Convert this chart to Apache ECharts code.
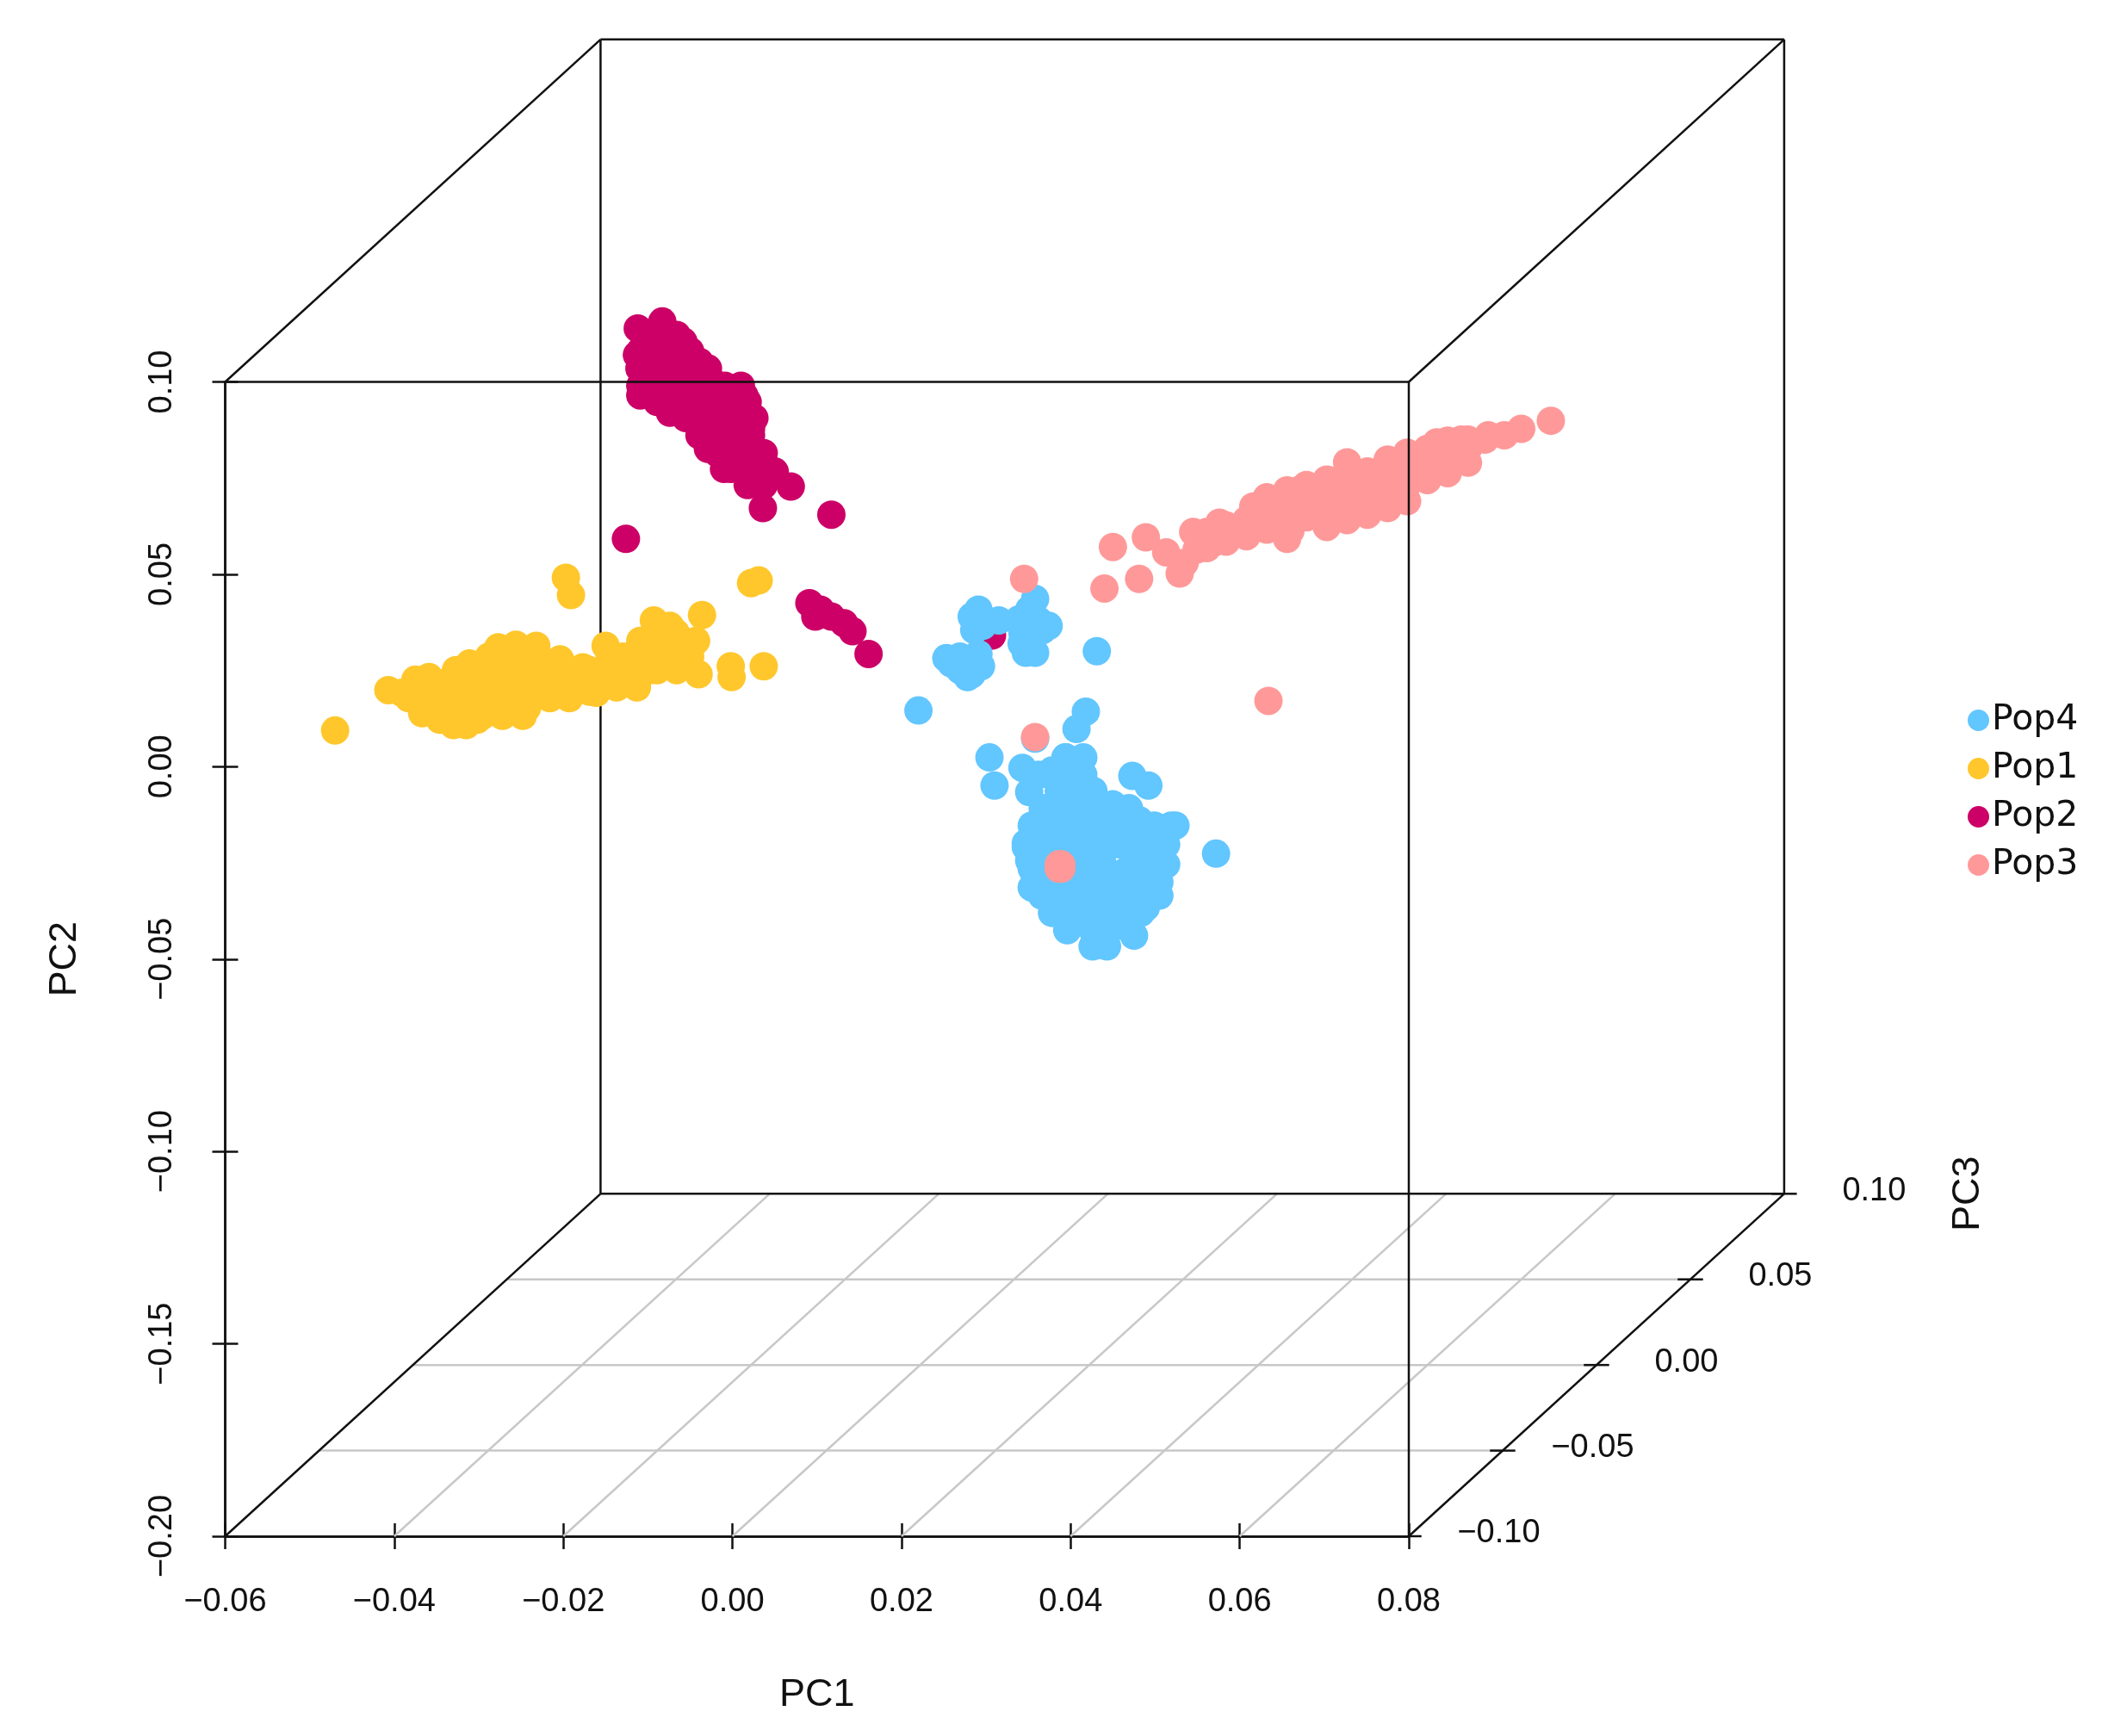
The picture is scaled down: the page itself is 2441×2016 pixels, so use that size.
<!DOCTYPE html>
<html>
<head>
<meta charset="utf-8">
<style>html,body{margin:0;padding:0;background:#fff}#c{width:2441px;height:2016px}</style>
<script src="https://cdn.jsdelivr.net/npm/echarts@6/dist/echarts.min.js"></script>
</head>
<body>
<div id="c"></div>
<script>
// Axis ticks
var pc1Range = [-0.06, 0.08];
var pc2Range = [-0.20, 0.10];
var pc3Range = [-0.10, 0.10];
var pc1Ticks = [-0.04, -0.02, 0, 0.02, 0.04, 0.06];
var pc3Ticks = [-0.10, -0.05, 0, 0.05, 0.10];
// Apparent depth shift of the box, in PC1 / PC2 units, across the whole PC3 range
var depthPC1 = 0.0444;
var depthPC2 = 0.0890;

// Values, as [PC1, PC2] where they appear against the front axes
var pop1 = [[-.0470,.0094],[-.0197,.0491],[-.0191,.0446],[.0022,.0477],[.0031,.0484],[.0037,.0261],[-.0002,.0261],[-.0001,.0233],[-.0040,.0240],[-.0036,.0394],[-.0093,.0380],[-.0074,.0366],
[-.0407,.0199],[-.0391,.0192],[-.0375,.0226],[-.0372,.0174],[-.0359,.0233],[-.0356,.0199],[-.0367,.0139],[-.0346,.0122],[-.0330,.0108],[-.0315,.0108],[-.0302,.0122],[-.0343,.0216],[-.0327,.0251],[-.0311,.0261],[-.0319,.0181],[-.0304,.0216],[-.0292,.0164],[-.0288,.0286],[-.0277,.0310],[-.0256,.0317],[-.0272,.0261],[-.0248,.0251],[-.0232,.0279],[-.0264,.0216],[-.0280,.0199],[-.0240,.0199],[-.0243,.0153],[-.0272,.0146],[-.0216,.0251],[-.0204,.0279],[-.0193,.0233],[-.0197,.0188],[-.0224,.0216],[-.0169,.0233],[-.0161,.0192],[-.0150,.0314],[-.0145,.0261],[-.0129,.0286],[-.0118,.0251],[-.0113,.0216],[-.0102,.0268],[-.0086,.0303],[-.0067,.0348],[-.0082,.0328],[-.0066,.0293],[-.0177,.0258],[-.0137,.0233],
[-.0311,.0268],[-.0288,.0268],[-.0264,.0268],[-.0240,.0268],[-.0216,.0268],[-.0232,.0314],[-.0359,.0223],[-.0335,.0223],[-.0311,.0223],[-.0288,.0223],[-.0264,.0223],[-.0240,.0223],[-.0216,.0223],[-.0193,.0223],[-.0169,.0223],[-.0383,.0178],[-.0359,.0178],[-.0335,.0178],[-.0311,.0178],[-.0288,.0178],[-.0264,.0178],[-.0240,.0178],[-.0216,.0178],[-.0193,.0178],[-.0169,.0195],[-.0343,.0132],[-.0319,.0132],[-.0296,.0132],[-.0272,.0132],[-.0248,.0132],
[-.0145,.0286],[-.0121,.0286],[-.0097,.0286],[-.0169,.0251],[-.0145,.0251],[-.0121,.0251],[-.0097,.0251],[-.0078,.0268],[-.0185,.0206],[-.0161,.0206],[-.0137,.0206],[-.0113,.0206],[-.0137,.0268],
[-.0109,.0327],[-.0089,.0327],[-.0058,.0327],[-.0043,.0327],[-.0050,.0286],[-.0066,.0251],[-.0089,.0251]];
var pop2 = [[-.0112,.1139],[-.0083,.1157],[-.0089,.1087],[-.0058,.1105],[-.0039,.1052],[-.0113,.1070],[-.0097,.1035],[-.0105,.0983],[-.0074,.1000],[-.0050,.0983],[-.0026,.1007],[-.0002,.0983],[.0014,.0965],[-.0074,.0920],[-.0109,.0965],[-.0042,.0930],[-.0010,.0930],[.0018,.0913],[-.0026,.0878],[.0006,.0861],[.0022,.0878],[-.0029,.0826],[-.0010,.0774],[.0014,.0791],[.0037,.0791],[.0029,.0739],[.0050,.0767],[.0069,.0728],[.0036,.0672],[.0117,.0655],[-.0126,.0592],[-.0058,.1035],[-.0018,.0965],
[-.0105,.1122],[-.0082,.1122],[-.0066,.1122],[-.0109,.1080],[-.0089,.1080],[-.0069,.1080],[-.0050,.1080],[-.0110,.1035],[-.0089,.1035],[-.0069,.1035],[-.0050,.1035],[-.0029,.1035],[-.0109,.0990],[-.0089,.0990],[-.0069,.0990],[-.0050,.0990],[-.0029,.0990],[-.0009,.0990],[.0010,.0990],[-.0089,.0948],[-.0061,.0948],[-.0042,.0948],[-.0021,.0948],[-.0001,.0948],[.0018,.0948],[-.0055,.0906],[-.0034,.0906],[-.0013,.0906],[.0007,.0906],[.0026,.0906],[-.0039,.0861],[-.0018,.0861],[.0002,.0861],[.0022,.0861],[-.0018,.0815],[.0002,.0815],[.0022,.0815],[.0037,.0815],[-.0002,.0774],[.0018,.0774],[.0041,.0774],[.0018,.0732],[.0037,.0732],
[.0091,.0425],[.0104,.0408],[.0117,.0390],[.0132,.0373],[.0142,.0352],[.0161,.0293],[.0098,.0390],[.0307,.0341]];
var pop4 = [[.0283,.0390],[.0296,.0366],[.0315,.0380],[.0358,.0436],[.0339,.0383],[.0362,.0380],[.0354,.0328],[.0347,.0296],[.0343,.0348],[.0351,.0408],[.0253,.0282],[.0269,.0286],[.0283,.0240],[.0291,.0293],[.0275,.0268],[.0431,.0300],[.0220,.0146],
[.0347,.0355],[.0342,.0320],[.0367,.0355],[.0358,.0296],[.0351,.0390],[.0374,.0366],[.0259,.0268],[.0278,.0233],[.0269,.0251],[.0294,.0261],[.0291,.0408],[.0286,.0355],
[.0418,.0143],[.0407,.0098],[.0358,.0073],[.0304,.0024],[.0310,-.0049],[.0343,-.0003],[.0362,-.0021],[.0351,-.0066],[.0394,.0024],[.0410,-.0010],[.0378,-.0010],[.0402,-.0063],[.0473,-.0024],[.0492,-.0049],[.0426,-.0098],[.0386,-.0098],[.0362,-.0167],[.0347,-.0209],[.0354,-.0265],[.0370,-.0132],[.0402,-.0167],[.0426,-.0185],[.0450,-.0098],[.0481,-.0139],[.0524,-.0153],[.0513,-.0202],[.0489,-.0237],[.0458,-.0202],[.0465,-.0272],[.0505,-.0300],[.0489,-.0366],[.0475,-.0439],[.0434,-.0463],[.0442,-.0404],[.0426,-.0324],[.0394,-.0376],[.0378,-.0348],[.0367,-.0324],[.0402,-.0307],[.0450,-.0324],[.0572,-.0226],[.0426,-.0237],[.0402,-.0237],[.0386,-.0202],[.0481,-.0185],[.0431,-.0429],[.0418,-.0376],[.0354,-.0314],[.0481,-.0307],[.0513,-.0254],
[.0394,.0024],[.0415,.0024],[.0375,-.0021],[.0396,-.0021],[.0415,-.0021],[.0386,-.0063],[.0407,-.0063],[.0427,-.0063],[.0367,-.0108],[.0386,-.0108],[.0407,-.0108],[.0427,-.0108],[.0448,-.0108],[.0469,-.0108],
[.0354,-.0153],[.0375,-.0153],[.0396,-.0153],[.0416,-.0153],[.0437,-.0153],[.0458,-.0153],[.0478,-.0153],[.0499,-.0153],[.0519,-.0153],
[.0347,-.0199],[.0367,-.0199],[.0388,-.0199],[.0408,-.0199],[.0450,-.0199],[.0470,-.0199],[.0491,-.0199],[.0511,-.0199],
[.0351,-.0244],[.0372,-.0244],[.0393,-.0244],[.0413,-.0244],[.0437,-.0244],[.0478,-.0244],[.0499,-.0244],
[.0358,-.0289],[.0378,-.0289],[.0399,-.0289],[.0419,-.0289],[.0440,-.0289],[.0481,-.0289],[.0502,-.0289],
[.0366,-.0335],[.0386,-.0335],[.0407,-.0335],[.0427,-.0335],[.0448,-.0335],[.0469,-.0335],[.0505,-.0335],
[.0378,-.0380],[.0399,-.0380],[.0421,-.0380],[.0442,-.0380],[.0462,-.0380],[.0483,-.0380],
[.0396,-.0425],[.0426,-.0425],[.0446,-.0425],[.0426,-.0467],[.0443,-.0467]];
var pop3 = [[.0450,.0571],[.0489,.0596],[.0513,.0557],[.0529,.0502],[.0535,.0530],[.0440,.0463],[.0481,.0488],[.0345,.0488],[.0634,.0171],[.0358,.0077],[.0386,-.0254],[.0389,-.0254],[.0386,-.0265],[.0389,-.0265],
[.0545,.0610],[.0549,.0564],[.0569,.0582],[.0576,.0634],[.0589,.0599],[.0605,.0627],[.0616,.0676],[.0632,.0652],[.0648,.0686],[.0660,.0613],[.0672,.0721],[.0679,.0662],[.0695,.0652],[.0703,.0746],[.0719,.0686],[.0727,.0791],[.0743,.0711],[.0751,.0767],[.0767,.0732],[.0783,.0774],[.0790,.0697],[.0806,.0791],[.0822,.0826],[.0833,.0843],[.0830,.0767],[.0854,.0791],[.0870,.0826],[.0862,.0850],[.0894,.0861],[.0913,.0861],[.0933,.0878],[.0968,.0899],
[.0561,.0610],[.0561,.0568],[.0584,.0627],[.0584,.0585],[.0608,.0641],[.0608,.0599],[.0632,.0658],[.0632,.0700],[.0632,.0616],[.0656,.0676],[.0656,.0718],[.0656,.0634],[.0656,.0592],[.0679,.0690],[.0679,.0732],[.0679,.0648],[.0703,.0707],[.0703,.0665],[.0703,.0623],[.0727,.0725],[.0727,.0767],[.0727,.0683],[.0727,.0641],[.0751,.0739],[.0751,.0697],[.0751,.0655],[.0775,.0756],[.0775,.0798],[.0775,.0714],[.0775,.0672],[.0798,.0774],[.0798,.0816],[.0798,.0732],[.0798,.0690],[.0822,.0787],[.0822,.0745],[.0846,.0805],[.0846,.0847],[.0846,.0763],[.0870,.0850],[.0870,.0790],[.0890,.0850]];

var legendOrder = ['Pop4', 'Pop1', 'Pop2', 'Pop3'];

// Oblique projection: where a (PC1, PC2, PC3) point falls against the front axes
function project(p1, p2, p3) {
  var f = (p3 - pc3Range[0]) / (pc3Range[1] - pc3Range[0]);
  return [p1 + f * depthPC1, p2 + f * depthPC2];
}
function row(a, b) {
  var p = project(a[0], a[1], a[2]), q = project(b[0], b[1], b[2]);
  return [p[0], p[1], q[0], q[1]];
}
function segments(rows, color, width, z) {
  return {
    type: 'custom', silent: true, z: z, animation: false, data: rows,
    encode: { x: [0, 2], y: [1, 3] },
    renderItem: function (params, api) {
      var a = api.coord([api.value(0), api.value(1)]);
      var b = api.coord([api.value(2), api.value(3)]);
      return { type: 'line', shape: { x1: a[0], y1: a[1], x2: b[0], y2: b[1] }, style: { stroke: color, lineWidth: width, fill: null } };
    }
  };
}
var x0 = pc1Range[0], x1 = pc1Range[1], y0 = pc2Range[0], y1 = pc2Range[1], d0 = pc3Range[0], d1 = pc3Range[1];
var INK = '#111111', GRID = '#c8c8c8', TEXT = '#111111';
var series = [];
// floor grid
series.push(segments(
  pc1Ticks.map(function (t) { return row([t, y0, d0], [t, y0, d1]); })
    .concat(pc3Ticks.slice(1, -1).map(function (t) { return row([x0, y0, t], [x1, y0, t]); })),
  GRID, 2.5, 1));
// back and connecting box edges, PC3 ticks
var tickHalf = 0.0015;
series.push(segments([
  row([x0, y1, d1], [x1, y1, d1]), row([x0, y0, d1], [x1, y0, d1]),
  row([x0, y0, d1], [x0, y1, d1]), row([x1, y0, d1], [x1, y1, d1]),
  row([x0, y1, d0], [x0, y1, d1]), row([x1, y1, d0], [x1, y1, d1]),
  row([x0, y0, d0], [x0, y0, d1]), row([x1, y0, d0], [x1, y0, d1])
].concat(pc3Ticks.map(function (t, i) {
  var lo = i === 0 ? 0 : -tickHalf, hi = tickHalf;
  return row([x1 + lo, y0, t], [x1 + hi, y0, t]);
})), INK, 2.5, 2));
// PC3 tick labels and name
function fmt(v) { return (v < 0 ? '\u2212' : '') + Math.abs(v).toFixed(2); }
series.push({
  type: 'scatter', silent: true, clip: false, symbolSize: 1, z: 3, animation: false,
  itemStyle: { color: INK, opacity: 1 },
  data: pc3Ticks.map(function (t) { return { value: project(x1, y0, t), name: fmt(t) }; }),
  label: { show: true, position: 'right', distance: 0, align: 'center', verticalAlign: 'middle', offset: [104, -3], formatter: '{b}', fontFamily: 'Liberation Sans', fontSize: 38, color: TEXT }
});
series.push({
  type: 'scatter', silent: true, clip: false, symbolSize: 1, z: 3, animation: false,
  itemStyle: { color: INK, opacity: 1 },
  data: [{ value: project(x1, y0, d1), name: 'PC3' }],
  label: { show: true, position: 'right', distance: 0, align: 'center', verticalAlign: 'middle', offset: [0, 213], rotate: 90, formatter: '{b}', fontFamily: 'Liberation Sans', fontSize: 45, color: TEXT }
});
// populations
function pop(name, data, color, z) {
  return { type: 'scatter', name: name, data: data, clip: false, symbol: 'circle', symbolSize: 33, z: z, animation: false, itemStyle: { color: color, opacity: 1 } };
}
series.push(pop('Pop2', pop2, '#CC0066', 4));
series.push(pop('Pop1', pop1, '#FFC72C', 5));
series.push(pop('Pop4', pop4, '#62C6FF', 6));
series.push(pop('Pop3', pop3, '#FF9999', 7));
// front edges on top of the points
series.push(segments([row([x0, y1, d0], [x1, y1, d0]), row([x1, y0, d0], [x1, y1, d0])], INK, 2.5, 9));

var lbl = { fontFamily: 'Liberation Sans', fontSize: 38, color: TEXT, formatter: fmt };
var axLine = { show: true, onZero: false, lineStyle: { color: INK, width: 2.5 } };
function mkX(inside) {
  return {
    type: 'value', min: x0, max: x1, interval: 0.02, position: 'bottom', splitLine: { show: false },
    axisLine: axLine, axisTick: { show: true, inside: inside, length: 15, lineStyle: { color: INK, width: 2.5 } },
    axisLabel: inside ? { show: false } : Object.assign({ margin: 58 }, lbl),
    name: inside ? '' : 'PC1', nameLocation: 'middle', nameGap: 162,
    nameTextStyle: { fontFamily: 'Liberation Sans', fontSize: 45, color: TEXT }
  };
}
function mkY(inside) {
  return {
    type: 'value', min: y0, max: y1, interval: 0.05, position: 'left', splitLine: { show: false },
    axisLine: axLine, axisTick: { show: true, inside: inside, length: 15, lineStyle: { color: INK, width: 2.5 } },
    axisLabel: inside ? { show: false } : Object.assign({ margin: 54, rotate: 90 }, lbl),
    name: inside ? '' : 'PC2', nameLocation: 'middle', nameGap: 163,
    nameTextStyle: { fontFamily: 'Liberation Sans', fontSize: 45, color: TEXT }
  };
}
var chart = echarts.init(document.getElementById('c'), null, { renderer: 'canvas' });
chart.setOption({
  animation: false,
  backgroundColor: '#fff',
  grid: { left: 261.5, top: 443.5, width: 1374.5, height: 1340.5, containLabel: false },
  xAxis: [mkX(false), mkX(true)],
  yAxis: [mkY(false), mkY(true)],
  legend: {
    data: legendOrder, orient: 'vertical', left: 2280, top: 808, itemWidth: 25, itemHeight: 25, itemGap: 9,
    icon: 'circle', itemStyle: { borderWidth: 0 },
    textStyle: { fontFamily: 'DejaVu Sans', fontSize: 41, color: TEXT, padding: [0, 0, 0, -2], lineHeight: 47 }
  },
  series: series
});
</script>
</body>
</html>
